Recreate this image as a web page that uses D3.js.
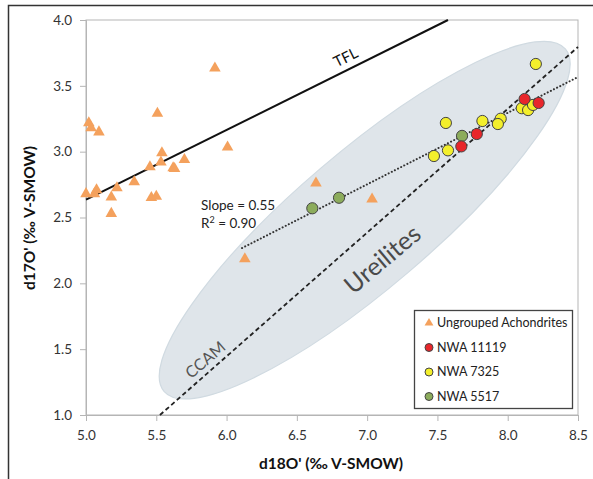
<!DOCTYPE html>
<html>
<head>
<meta charset="utf-8">
<script src="https://cdn.jsdelivr.net/npm/d3@7"></script>
<style>
  body { margin: 0; background: #fff; }
  text { font-family: Lato, "Open Sans", sans-serif; }
</style>
</head>
<body>
<div id="chart"></div>
<script>
"use strict"

var width = 593,
	height = 479;

// data
var xTicks = [5.0, 5.5, 6.0, 6.5, 7.0, 7.5, 8.0, 8.5];
var yTicks = [1.0, 1.5, 2.0, 2.5, 3.0, 3.5, 4.0];

// ungrouped achondrites [d18O', d17O']
var ungrouped = [
	[5.917, 3.635], [5.02, 3.218], [5.036, 3.18], [5.092, 3.149], [5.508, 3.29],
	[5.54, 2.99], [5.533, 2.92], [5.455, 2.885], [5.62, 2.876], [5.63, 2.87],
	[5.70, 2.94], [6.007, 3.035], [5.343, 2.77], [5.22, 2.725], [5.075, 2.71],
	[5.06, 2.68], [5.0, 2.68], [5.18, 2.655], [5.18, 2.53], [5.465, 2.65],
	[5.50, 2.66], [6.636, 2.76], [7.035, 2.64], [6.13, 2.185]
];
var nwa11119 = [[8.12, 3.40], [8.22, 3.37], [7.78, 3.134], [7.67, 3.04]];
var nwa7325 = [
	[8.20, 3.666], [7.56, 3.218], [7.82, 3.233], [7.95, 3.25], [7.93, 3.21],
	[7.475, 2.967], [7.575, 3.01], [8.10, 3.33], [8.145, 3.316], [8.18, 3.355]
];
var nwa5517 = [[7.675, 3.12], [6.80, 2.65], [6.61, 2.57]];

// reference lines (end points in data units)
var tfl = [[5.0, 2.635], [7.575, 4.0]];
var ccam = [[5.526, 1.0], [8.5, 3.795]];
var fit = [[6.11, 2.268], [8.5, 3.567]];

// ureilite field: tips of the long axis
var ureiliteTips = [[5.555, 1.18], [8.41, 3.78]];

var legendItems = [
	{name: "Ungrouped Achondrites", color: "#f4a15d", shape: "tri"},
	{name: "NWA 11119", color: "#e8262b", shape: "circ"},
	{name: "NWA 7325", color: "#f3ef2c", shape: "circ"},
	{name: "NWA 5517", color: "#8cac5c", shape: "circ"}
];

var svg = d3.select("#chart").append("svg")
	.attr("width", width)
	.attr("height", height);

var x = d3.scaleLinear().domain([5, 8.5]).range([86, 578]);
var y = d3.scaleLinear().domain([1, 4]).range([415, 20]);

// outer frame (top and left only)
svg.append("path")
	.attr("d", "M8.5," + height + "V5.5H" + width)
	.attr("fill", "none")
	.attr("stroke", "#333")
	.attr("stroke-width", 1.5);

// plot box
svg.append("rect")
	.attr("x", x(5)).attr("y", y(4))
	.attr("width", x(8.5) - x(5)).attr("height", y(1) - y(4))
	.attr("fill", "none")
	.attr("stroke", "#b5b5b5")
	.attr("stroke-width", 1);

// ureilite ellipse
var p0 = [x(ureiliteTips[0][0]), y(ureiliteTips[0][1])],
	p1 = [x(ureiliteTips[1][0]), y(ureiliteTips[1][1])];
var cx = (p0[0] + p1[0]) / 2, cy = (p0[1] + p1[1]) / 2;
var rx = Math.hypot(p1[0] - p0[0], p1[1] - p0[1]) / 2;
var ang = Math.atan2(p1[1] - p0[1], p1[0] - p0[0]) * 180 / Math.PI;
svg.append("ellipse")
	.attr("cx", cx).attr("cy", cy)
	.attr("rx", rx).attr("ry", 68)
	.attr("transform", "rotate(" + ang + "," + cx + "," + cy + ")")
	.attr("fill", "#dfe5ea")
	.attr("stroke", "#d0dae1")
	.attr("stroke-width", 1.2);

// axes
var xAxis = svg.append("g")
	.attr("transform", "translate(0," + y(1) + ")")
	.call(d3.axisBottom(x).tickValues(xTicks).tickFormat(d3.format(".1f")).tickSize(6).tickPadding(9));
var yAxis = svg.append("g")
	.attr("transform", "translate(" + x(5) + ",0)")
	.call(d3.axisLeft(y).tickValues(yTicks).tickFormat(d3.format(".1f")).tickSize(6).tickPadding(8));
[xAxis, yAxis].forEach(function(g) {
	g.select(".domain").attr("stroke", "#b5b5b5");
	g.selectAll(".tick line").attr("stroke", "#b5b5b5");
	g.selectAll(".tick text")
		.attr("fill", "#333")
		.style("font-size", "13.5px")
		.style("font-family", "Lato, sans-serif");
});

// reference lines
var line = d3.line().x(function(d) { return x(d[0]); }).y(function(d) { return y(d[1]); });

svg.append("path").datum(tfl)
	.attr("d", line)
	.attr("stroke", "#111").attr("stroke-width", 2).attr("fill", "none");
svg.append("path").datum(ccam)
	.attr("d", line)
	.attr("stroke", "#222").attr("stroke-width", 1.8)
	.attr("stroke-dasharray", "4.5,3").attr("fill", "none");
svg.append("path").datum(fit)
	.attr("d", line)
	.attr("stroke", "#333").attr("stroke-width", 2)
	.attr("stroke-linecap", "round")
	.attr("stroke-dasharray", "0.1,3.4").attr("fill", "none");

// labels on the plot
var ang2 = function(seg) {
	return Math.atan2(y(seg[1][1]) - y(seg[0][1]), x(seg[1][0]) - x(seg[0][0])) * 180 / Math.PI;
};
svg.append("text")
	.attr("transform", "translate(348,62) rotate(" + ang2(tfl) + ")")
	.attr("text-anchor", "middle")
	.attr("fill", "#111")
	.style("font-size", "15px")
	.text("TFL");
svg.append("text")
	.attr("transform", "translate(388,266) rotate(-40)")
	.attr("text-anchor", "middle")
	.attr("fill", "#4a4a4a")
	.style("font-size", "25px")
	.text("Ureilites");
svg.append("text")
	.attr("transform", "translate(209,364) rotate(-41)")
	.attr("text-anchor", "middle")
	.attr("fill", "#555")
	.style("font-size", "16px")
	.text("CCAM");

var fitText = svg.append("text")
	.attr("fill", "#222")
	.style("font-size", "13.5px");
fitText.append("tspan").attr("x", 201).attr("y", 210).text("Slope = 0.55");
var r2 = fitText.append("tspan").attr("x", 201).attr("y", 228);
r2.append("tspan").text("R");
r2.append("tspan").attr("dy", -5).style("font-size", "9px").text("2");
r2.append("tspan").attr("dy", 5).text(" = 0.90");

// points
var tri = d3.symbol().type(d3.symbolTriangle).size(58);
svg.append("g").selectAll("path")
	.data(ungrouped)
	.enter().append("path")
	.attr("d", tri)
	.attr("transform", function(d) { return "translate(" + x(d[0]) + "," + y(d[1]) + ")"; })
	.attr("fill", legendItems[0].color);

// yellow, green, then red on top
[[nwa7325, 2], [nwa5517, 3], [nwa11119, 1]].forEach(function(s) {
	var item = legendItems[s[1]];
	svg.append("g").selectAll("circle")
		.data(s[0])
		.enter().append("circle")
		.attr("cx", function(d) { return x(d[0]); })
		.attr("cy", function(d) { return y(d[1]); })
		.attr("r", 5.6)
		.attr("fill", item.color)
		.attr("stroke", "#444")
		.attr("stroke-width", 1);
});

// legend
var legend = svg.append("g");
legend.append("rect")
	.attr("x", 414.5).attr("y", 310.5)
	.attr("width", 158).attr("height", 98)
	.attr("fill", "#fff")
	.attr("stroke", "#444")
	.attr("stroke-width", 1.3);
var li = legend.selectAll(".li")
	.data(legendItems)
	.enter().append("g")
	.attr("transform", function(d, i) { return "translate(429," + (323 + i * 24.5) + ")"; });
li.filter(function(d) { return d.shape == "tri"; })
	.append("path")
	.attr("d", d3.symbol().type(d3.symbolTriangle).size(34))
	.attr("fill", function(d) { return d.color; });
li.filter(function(d) { return d.shape == "circ"; })
	.append("circle")
	.attr("r", 4)
	.attr("fill", function(d) { return d.color; })
	.attr("stroke", "#444")
	.attr("stroke-width", 1);
li.append("text")
	.attr("x", 8)
	.attr("dy", "0.35em")
	.attr("fill", "#222")
	.style("font-size", "12.5px")
	.text(function(d) { return d.name; });

// axis titles
svg.append("text")
	.attr("x", 331).attr("y", 469)
	.attr("text-anchor", "middle")
	.attr("fill", "#111")
	.style("font-size", "15.5px")
	.style("font-weight", "bold")
	.text("d18O' (\u2030 V-SMOW)");
svg.append("text")
	.attr("transform", "translate(35,218) rotate(-90)")
	.attr("text-anchor", "middle")
	.attr("fill", "#111")
	.style("font-size", "15.5px")
	.style("font-weight", "bold")
	.text("d17O' (\u2030 V-SMOW)");
</script>
</body>
</html>
